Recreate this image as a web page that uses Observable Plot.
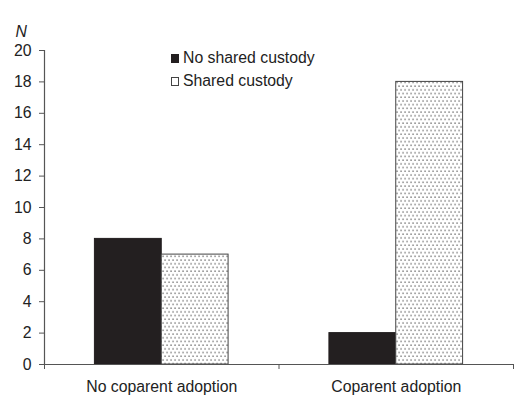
<!DOCTYPE html>
<html>
<head>
<meta charset="utf-8">
<script src="https://cdn.jsdelivr.net/npm/d3@7"></script>
<script src="https://cdn.jsdelivr.net/npm/@observablehq/plot@0.6"></script>
<style>
  html, body { margin: 0; padding: 0; background: #fff; }
  #wrap { position: relative; width: 523px; height: 415px; font-family: "Liberation Sans", Arial, sans-serif; }
  #legend { position: absolute; left: 171px; top: 46px; font-size: 15.8px; color: #222; line-height: 23px; }
  #legend .sw { display: inline-block; width: 8px; height: 9px; margin-right: 4px; vertical-align: 0px; box-sizing: border-box; }
  svg text { font-size: 15.8px; }
</style>
</head>
<body>
<div id="wrap"></div>
<script>
const categories = ["No coparent adoption", "Coparent adoption"];
const series = ["No shared custody", "Shared custody"];
const noSharedCustody = [8, 2];
const sharedCustody = [7, 18];
const yTicks = [0, 2, 4, 6, 8, 10, 12, 14, 16, 18, 20];

const valuesBySeries = [noSharedCustody, sharedCustody];
const data = [];
categories.forEach((c, i) => {
  series.forEach((s, j) => {
    data.push({cat: c, ci: i, series: s, sj: j, value: valuesBySeries[j][i]});
  });
});

// group occupies the middle 57% of each category band
const groupStart = 0.215, groupEnd = 0.785;
const half = (groupEnd - groupStart) / 2;

const fills = ["#231f20", "url(#dots)"];
const strokes = ["#231f20", "#444"];

const plot = Plot.plot({
  width: 523,
  height: 415,
  marginLeft: 44,
  marginRight: 10,
  marginTop: 50,
  marginBottom: 51,
  style: {fontFamily: "'Liberation Sans', Arial, sans-serif", fontSize: "15.8px", color: "#222", background: "#fff"},
  x: {type: "linear", domain: [0, categories.length], axis: null},
  y: {domain: [0, 20], axis: null},
  marks: [
    Plot.rectY(data, {
      x1: d => d.ci + groupStart + d.sj * half,
      x2: d => d.ci + groupStart + (d.sj + 1) * half,
      y: "value",
      fill: d => fills[d.sj],
      stroke: d => strokes[d.sj],
      strokeWidth: 1
    }),
    Plot.axisY({ticks: yTicks, tickSize: 5, tickPadding: 8, label: null, stroke: "#555", fill: "#222"}),
    Plot.axisX({ticks: d3.range(categories.length + 1), tickFormat: () => "", tickSize: 5, stroke: "#555", label: null}),
    Plot.axisX({ticks: categories.map((c, i) => i + 0.5), tickFormat: (d) => categories[Math.floor(d)], tickSize: 0, tickPadding: 16, label: null, fill: "#222"}),
    Plot.ruleX([0], {stroke: "#555", strokeWidth: 1.2}),
    Plot.ruleY([0], {stroke: "#555", strokeWidth: 1.2}),
    Plot.text(["N"], {frameAnchor: "top-left", dx: -29, dy: -14, lineAnchor: "bottom", fontStyle: "italic", fill: "#222", textAnchor: "start"})
  ]
});

// dotted fill pattern
const svg = d3.select(plot);
const defs = svg.insert("defs", ":first-child");
const pat = defs.append("pattern").attr("id", "dots").attr("patternUnits", "userSpaceOnUse")
  .attr("width", 4).attr("height", 7.4);
pat.append("rect").attr("width", 4).attr("height", 7.4).attr("fill", "#fff");
pat.append("rect").attr("x", 0.5).attr("y", 0.5).attr("width", 1.1).attr("height", 1.1).attr("fill", "#222");
pat.append("rect").attr("x", 2.5).attr("y", 4.2).attr("width", 1.1).attr("height", 1.1).attr("fill", "#222");

const wrap = document.getElementById("wrap");
wrap.appendChild(plot);

const legend = document.createElement("div");
legend.id = "legend";
series.forEach((s, j) => {
  const row = document.createElement("div");
  const sw = document.createElement("span");
  sw.className = "sw";
  sw.style.background = j === 0 ? "#231f20" : "#fff";
  sw.style.border = j === 0 ? "none" : "1px solid #444";
  row.appendChild(sw);
  row.appendChild(document.createTextNode(s));
  legend.appendChild(row);
});
wrap.appendChild(legend);
</script>
</body>
</html>
